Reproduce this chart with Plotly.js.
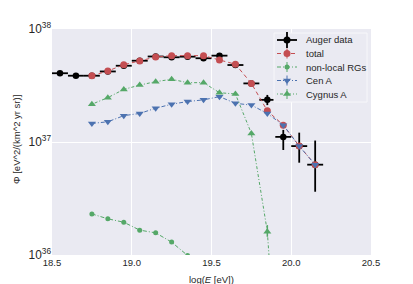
<!DOCTYPE html>
<html>
<head>
<meta charset="utf-8">
<script src="https://cdn.plot.ly/plotly-3.0.1.min.js"></script>
<style>html,body{margin:0;padding:0;background:#fff;}#chart{width:413px;height:284px;}</style>
</head>
<body>
<div id="chart"></div>
<script>
// log10(E/eV) bin centres
const augerE = [18.55,18.65,18.75,18.85,18.95,19.05,19.15,19.25,19.35,19.45,19.55,19.65,19.75,19.85,19.95,20.05,20.15];
const augerFlux = [4.06e37,3.86e37,3.86e37,4.21e37,4.73e37,5.24e37,5.71e37,5.62e37,5.69e37,5.51e37,5.81e37,4.80e37,3.30e37,2.36e37,1.11e37,9.2e36,6.3e36];
const augerErrUp = [0.4e36,0.4e36,0.4e36,0.4e36,0.5e36,0.5e36,0.6e36,0.6e36,0.7e36,0.8e36,0.9e36,1.0e36,1.2e36,2.5e36,1.7e36,2.9e36,4.0e36];
const augerErrDn = [0.4e36,0.4e36,0.4e36,0.4e36,0.5e36,0.5e36,0.6e36,0.6e36,0.7e36,0.8e36,0.9e36,1.0e36,1.2e36,2.4e36,2.6e36,2.64e36,2.67e36];

const modelE = [18.75,18.85,18.95,19.05,19.15,19.25,19.35,19.45,19.55,19.65,19.75,19.85,19.95,20.05,20.15];
const totalFlux = [3.86e37,4.25e37,4.83e37,5.21e37,5.65e37,5.81e37,5.81e37,5.81e37,5.32e37,4.88e37,3.30e37,1.89e37,1.41e37,9.2e36,6.3e36];
const cenAFlux = [1.46e37,1.51e37,1.71e37,1.79e37,1.99e37,2.16e37,2.28e37,2.36e37,2.52e37,2.20e37,2.12e37,1.79e37,1.41e37,9.2e36,6.3e36];
const cygAE = [18.75,18.85,18.95,19.05,19.15,19.25,19.35,19.45,19.55,19.65,19.75,19.85,19.95];
const cygAFlux = [2.16e37,2.47e37,2.92e37,3.19e37,3.42e37,3.59e37,3.35e37,3.35e37,2.73e37,2.66e37,1.19e37,1.61e36,1.5e34];
const cygAErrUp = [0,0,0,0,0,0,0,0,0,0,0,0.23e36,0];
const cygAErrDn = [0,0,0,0,0,0,0,0,0,0,0,0.16e36,0];
const nonLocalE = [18.75,18.85,18.95,19.05,19.15,19.25,19.35,19.45];
const nonLocalFlux = [2.31e36,2.09e36,1.95e36,1.66e36,1.57e36,1.30e36,9.9e35,5.0e35];

const seriesNames = ['Auger data','total','non-local RGs','Cen A','Cygnus A'];
const xTicks = [18.5,19.0,19.5,20.0,20.5];
const xTickText = ['18.5','19.0','19.5','20.0','20.5'];
const xTitle = 'log(<i>E</i> [eV])';
const yTitle = 'Φ [eV^2/(km^2 yr sr)]';

const red = '#C44E52', green = '#55A868', blue = '#4C72B0';
const styles = [
  {color: '#000', size: 7, symbol: 'circle', dash: null},
  {color: red, size: 7, symbol: 'circle', dash: '4px,3px'},
  {color: green, size: 5, symbol: 'circle', dash: '4px,2px,1px,2px'},
  {color: blue, size: 7, symbol: 'triangle-down', dash: '4px,2px,1px,2px'},
  {color: green, size: 7, symbol: 'triangle-up', dash: '1px,2px,3px,2px'}
];

const traces = [
  {x: augerE, y: augerFlux, name: seriesNames[0], type: 'scatter', mode: 'markers',
   marker: {color: '#000', size: 6.5},
   error_x: {type: 'constant', value: 0.05, color: '#000', thickness: 1.8, width: 0},
   error_y: {type: 'data', symmetric: false, array: augerErrUp, arrayminus: augerErrDn, color: '#000', thickness: 1.8, width: 0}},
  {x: modelE, y: totalFlux, name: seriesNames[1], type: 'scatter', mode: 'lines+markers',
   line: {color: red, width: 1, dash: styles[1].dash}, marker: {color: red, size: 7}},
  {x: nonLocalE, y: nonLocalFlux, name: seriesNames[2], type: 'scatter', mode: 'lines+markers',
   line: {color: green, width: 1, dash: styles[2].dash}, marker: {color: green, size: 5}},
  {x: modelE, y: cenAFlux, name: seriesNames[3], type: 'scatter', mode: 'lines+markers',
   line: {color: blue, width: 1, dash: styles[3].dash}, marker: {color: blue, size: 7, symbol: 'triangle-down'}},
  {x: cygAE, y: cygAFlux, name: seriesNames[4], type: 'scatter', mode: 'lines+markers',
   line: {color: green, width: 1, dash: styles[4].dash}, marker: {color: green, size: 7, symbol: 'triangle-up'},
   error_y: {type: 'data', symmetric: false, array: cygAErrUp, arrayminus: cygAErrDn, color: green, thickness: 1.5, width: 0}}
];

// Hand-built compact legend, placed in pixel terms of the plot area
const plotL = 52, plotW = 319, plotT = 29, plotH = 226;
const X0 = 18.5, X1 = 20.5, LY0 = 36, LY1 = 38;
const px2x = p => (p - plotL) / plotW;            // paper fraction
const px2y = p => (plotT + plotH - p) / plotH;    // paper fraction
const px2dx = p => X0 + px2x(p) * (X1 - X0);      // data x
const px2dy = p => Math.pow(10, LY0 + px2y(p) * (LY1 - LY0)); // data y (log axis)
const legRowsPx = [40, 53.5, 67, 80.5, 94];

// legend frame (filled rectangle drawn above the data, below the legend symbols)
const bx0 = px2dx(274), bx1 = px2dx(367), by0 = px2dy(102), by1 = px2dy(33);
traces.push({x: [bx0, bx1, bx1, bx0, bx0], y: [by0, by0, by1, by1, by0], mode: 'lines', fill: 'toself',
             fillcolor: '#EAEAF2', line: {color: '#f7f7fa', width: 1}, showlegend: false, hoverinfo: 'skip'});

const annotations = [
  {xref: 'paper', yref: 'paper', x: 0.5, y: px2y(279), xanchor: 'center', yanchor: 'middle',
   text: xTitle, showarrow: false, font: {size: 9.5, color: '#262626'}},
  {xref: 'paper', yref: 'paper', x: px2x(16), y: px2y(140), xanchor: 'center', yanchor: 'middle', textangle: -90,
   text: yTitle, showarrow: false, font: {size: 9.5, color: '#262626'}}
];
seriesNames.forEach((nm, i) => {
  const py = legRowsPx[i];
  const yy = px2dy(py);
  const s = styles[i];
  if (s.dash) {
    traces.push({x: [px2dx(277), px2dx(297)], y: [yy, yy], mode: 'lines', showlegend: false, hoverinfo: 'skip',
                 line: {color: s.color, width: 1, dash: s.dash}});
  }
  const half = i === 0 ? 8 : 5;
  const t = {x: [px2dx(287)], y: [yy], mode: 'markers', showlegend: false, hoverinfo: 'skip',
             marker: {color: s.color, size: s.size, symbol: s.symbol},
             error_y: {type: 'data', symmetric: false, array: [px2dy(py - half) - yy], arrayminus: [yy - px2dy(py + half)],
                       color: s.color, thickness: i === 0 ? 1.8 : 1, width: 0}};
  if (i === 0) {
    t.error_x = {type: 'constant', value: px2dx(297) - px2dx(287), color: '#000', thickness: 1.8, width: 0};
  }
  traces.push(t);
  annotations.push({xref: 'paper', yref: 'paper', x: px2x(304), y: px2y(py), xanchor: 'left', yanchor: 'middle',
                    text: nm, showarrow: false, font: {size: 9.5, color: '#262626'}});
});

const layout = {
  width: 413, height: 284,
  margin: {l: 52, r: 42, t: 29, b: 29},
  paper_bgcolor: '#ffffff', plot_bgcolor: '#EAEAF2',
  font: {family: 'Liberation Sans, Arial, sans-serif', size: 9.5, color: '#262626'},
  showlegend: false,
  xaxis: {range: [X0, X1], tickvals: xTicks, ticktext: xTickText, showgrid: true, gridcolor: '#ffffff', gridwidth: 1,
          zeroline: false, showline: false, ticks: '', automargin: false},
  yaxis: {type: 'log', range: [LY0, LY1], dtick: 1, exponentformat: 'power', showgrid: true, gridcolor: '#ffffff', gridwidth: 1,
          zeroline: false, showline: false, ticks: '', automargin: false},
  annotations: annotations
};

Plotly.newPlot('chart', traces, layout, {displayModeBar: false, staticPlot: true});
</script>
</body>
</html>
